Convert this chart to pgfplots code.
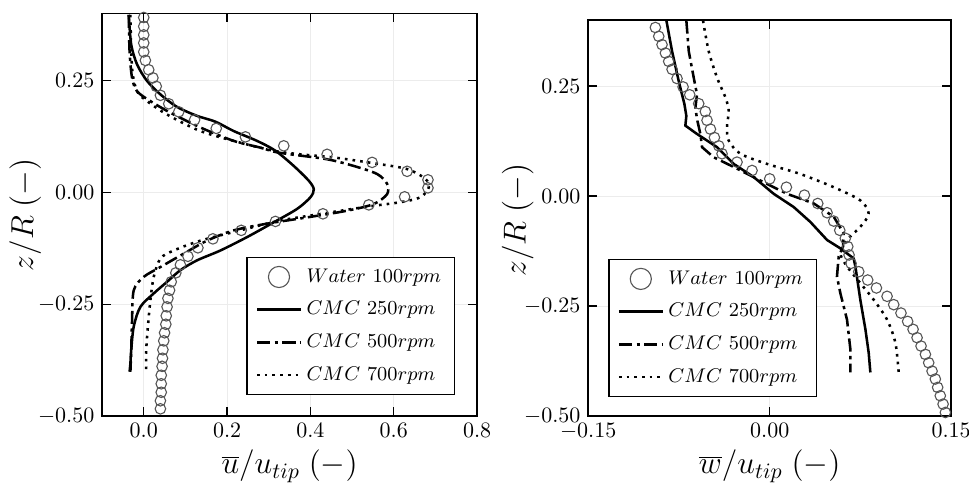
\documentclass[border=0pt]{standalone}
\usepackage{pgfplots}
\pgfplotsset{compat=1.18}

\definecolor{mk}{RGB}{85,85,85}

\pgfplotsset{
  prof/.style={
    scale only axis,
    ymin=-0.5, ymax=0.4,
    ytick={-0.5,-0.25,0,0.25},
    yticklabel style={/pgf/number format/.cd,fixed,fixed zerofill,precision=2},
    tick align=inside,
    major tick length=4pt,
    grid=major,
    grid style={gray!15, line width=0.4pt},
    axis line style={line width=0.8pt},
    every tick/.style={black, line width=0.6pt},
    tick label style={font=\normalsize},
    label style={font=\Large},
    legend cell align=left,
    legend style={draw=black, line width=0.6pt, font=\small,
      row sep=3.2pt, inner xsep=4pt, inner ysep=3pt},
    legend image code/.code={\draw[##1] (0cm,0cm) -- (0.7cm,0cm);},
  },
  water/.style={only marks, mark=o, mark size=2.4pt,
    mark options={draw=mk, line width=0.5pt},
    legend image code/.code={\draw[draw=mk, line width=0.5pt] (0.35cm,0cm) circle (4.8pt);}},
  c250/.style={black, line width=1.15pt},
  c500/.style={black, line width=1.15pt, dash pattern=on 6pt off 2pt on 1.5pt off 2pt},
  c700/.style={black, line width=1.15pt, dash pattern=on 1.2pt off 2.3pt},
}

\begin{document}
\begin{tikzpicture}
% page frame taken from the reference proportions
\path[use as bounding box] (-46.4pt,-33.2pt) rectangle (394.1pt,189.1pt);
% ---------------- left: axial velocity
\begin{axis}[prof,
    width=170.5pt, height=183pt,
    xmin=-0.1, xmax=0.8,
    xtick={0,0.2,0.4,0.6,0.8},
    xticklabel style={/pgf/number format/.cd,fixed,fixed zerofill,precision=1},
    xlabel={$\overline{u}/u_{tip}\;(-)$},
    ylabel={$z/R\;(-)$},
    xlabel style={at={(axis description cs:0.5,0)}, anchor=center, yshift=-23pt},
    ylabel style={at={(axis description cs:-0.205,0.5)}, anchor=center},
    legend style={at={(axis description cs:0.941,0.052)}, anchor=south east},
]
\addplot[water] coordinates {
(0,0.391) (0,0.371) (0,0.352) (0,0.334) (0,0.314) (0.004,0.295) (0.012,0.274)
(0.022,0.256) (0.030,0.237) (0.040,0.217) (0.060,0.198) (0.084,0.180) (0.122,0.162)
(0.174,0.143) (0.244,0.124) (0.336,0.104) (0.440,0.085) (0.548,0.067) (0.632,0.047)
(0.682,0.028) (0.682,0.010) (0.626,-0.010) (0.540,-0.028) (0.430,-0.048) (0.316,-0.065)
(0.234,-0.085) (0.166,-0.104) (0.130,-0.124) (0.106,-0.143) (0.088,-0.162) (0.077,-0.180)
(0.066,-0.200) (0.062,-0.219) (0.058,-0.237) (0.056,-0.256) (0.054,-0.276) (0.053,-0.295)
(0.050,-0.314) (0.048,-0.332) (0.046,-0.352) (0.045,-0.371) (0.044,-0.389) (0.042,-0.409)
(0.042,-0.428) (0.042,-0.447) (0.040,-0.466) (0.040,-0.484)
};
\addlegendentry{$Water\ 100rpm$}
\addplot[c250, smooth] coordinates {
(-0.036,0.397) (-0.030,0.330) (-0.016,0.286) (0.008,0.249) (0.040,0.219) (0.080,0.191)
(0.128,0.171) (0.172,0.158) (0.216,0.137) (0.272,0.115) (0.316,0.093) (0.360,0.059)
(0.396,0.026) (0.408,0.007) (0.400,-0.011) (0.368,-0.037) (0.312,-0.067) (0.248,-0.100)
(0.184,-0.130) (0.128,-0.152) (0.088,-0.174) (0.056,-0.200) (0.024,-0.226) (-0.008,-0.256)
(-0.024,-0.300) (-0.030,-0.352) (-0.032,-0.382) (-0.034,-0.401)
};
\addlegendentry{$CMC\ 250rpm$}
\addplot[c500, smooth] coordinates {
(-0.036,0.397) (-0.034,0.315) (-0.028,0.256) (-0.016,0.226) (0.016,0.204) (0.064,0.178)
(0.136,0.145) (0.216,0.115) (0.280,0.100) (0.312,0.091) (0.352,0.085) (0.440,0.074)
(0.504,0.059) (0.560,0.041) (0.584,0.019) (0.584,-0.004) (0.552,-0.026) (0.488,-0.041)
(0.392,-0.056) (0.296,-0.070) (0.216,-0.085) (0.152,-0.108) (0.096,-0.137) (0.040,-0.167)
(0.000,-0.189) (-0.024,-0.219) (-0.028,-0.286) (-0.030,-0.352) (-0.032,-0.401)
};
\addlegendentry{$CMC\ 500rpm$}
\addplot[c700, smooth] coordinates {
(-0.032,0.397) (-0.028,0.278) (-0.016,0.226) (0.008,0.204) (0.056,0.174) (0.136,0.137)
(0.232,0.111) (0.312,0.093) (0.376,0.085) (0.456,0.078) (0.552,0.065) (0.632,0.052)
(0.676,0.030) (0.684,0.011) (0.664,-0.011) (0.616,-0.022) (0.536,-0.032) (0.440,-0.046)
(0.328,-0.063) (0.232,-0.085) (0.136,-0.108) (0.072,-0.130) (0.040,-0.148) (0.024,-0.189)
(0.016,-0.241) (0.010,-0.300) (0.006,-0.352) (0.006,-0.401)
};
\addlegendentry{$CMC\ 700rpm$}
\end{axis}

% ---------------- right: radial velocity
\begin{axis}[prof,
    at={(221pt,0pt)}, anchor=south west,
    width=165pt, height=180pt,
    xmin=-0.15, xmax=0.15,
    xtick={-0.15,0,0.15},
    xticklabel style={/pgf/number format/.cd,fixed,fixed zerofill,precision=2},
    xlabel={$\overline{w}/u_{tip}\;(-)$},
    ylabel={$z/R\;(-)$},
    xlabel style={at={(axis description cs:0.5,0)}, anchor=center, yshift=-23pt},
    ylabel style={at={(axis description cs:-0.194,0.495)}, anchor=center},
    legend style={at={(axis description cs:0.055,0.048)}, anchor=south west},
]
\addplot[water] coordinates {
(-0.0945,0.383) (-0.0917,0.363) (-0.0890,0.344) (-0.0862,0.325) (-0.0835,0.306)
(-0.0807,0.288) (-0.0766,0.267) (-0.0716,0.248) (-0.0661,0.230) (-0.0587,0.210)
(-0.0532,0.192) (-0.0518,0.172) (-0.0490,0.152) (-0.0457,0.133) (-0.0421,0.114)
(-0.0394,0.096) (-0.0270,0.077) (-0.0146,0.058) (0.0000,0.039) (0.0138,0.020)
(0.0287,0.002) (0.0397,-0.017) (0.0474,-0.038) (0.0529,-0.057) (0.0579,-0.078)
(0.0625,-0.096) (0.0645,-0.115) (0.0656,-0.134) (0.0672,-0.153) (0.0736,-0.172)
(0.0810,-0.191) (0.0882,-0.209) (0.0970,-0.228) (0.1025,-0.247) (0.1085,-0.266)
(0.1140,-0.285) (0.1185,-0.303) (0.1218,-0.322) (0.1251,-0.341) (0.1287,-0.360)
(0.1314,-0.379) (0.1342,-0.398) (0.1369,-0.416) (0.1388,-0.435) (0.1410,-0.454)
(0.1433,-0.473) (0.1452,-0.492)
};
\addlegendentry{$Water\ 100rpm$}
\addplot[c250] coordinates {
(-0.0854,0.399) (-0.0807,0.329) (-0.0752,0.261) (-0.0705,0.209) (-0.0689,0.182)
(-0.0697,0.160) (-0.0601,0.141) (-0.0435,0.111) (-0.0298,0.073) (-0.0132,0.043)
(0.0033,0.005) (0.0198,-0.025) (0.0336,-0.059) (0.0474,-0.100) (0.0584,-0.119)
(0.0694,-0.142) (0.0708,-0.160) (0.0749,-0.236) (0.0791,-0.303) (0.0818,-0.356)
(0.0832,-0.401)
};
\addlegendentry{$CMC\ 250rpm$}
\addplot[c500] coordinates {
(-0.0689,0.399) (-0.0669,0.329) (-0.0628,0.269) (-0.0601,0.231) (-0.0614,0.201)
(-0.0601,0.175) (-0.0573,0.141) (-0.0559,0.111) (-0.0463,0.088) (-0.0298,0.066)
(-0.0077,0.035) (0.0143,0.005) (0.0364,-0.017) (0.0529,-0.047) (0.0612,-0.085)
(0.0606,-0.115) (0.0570,-0.138) (0.0556,-0.183) (0.0584,-0.221) (0.0639,-0.281)
(0.0667,-0.349) (0.0667,-0.401)
};
\addlegendentry{$CMC\ 500rpm$}
\addplot[c700, smooth] coordinates {
(-0.0551,0.399) (-0.0504,0.329) (-0.0435,0.269) (-0.0366,0.224) (-0.0339,0.194)
(-0.0353,0.156) (-0.0339,0.126) (-0.0242,0.096) (-0.0022,0.073) (0.0253,0.050)
(0.0529,0.020) (0.0749,-0.010) (0.0818,-0.040) (0.0749,-0.070) (0.0639,-0.100)
(0.0584,-0.130) (0.0639,-0.160) (0.0749,-0.198) (0.0860,-0.236) (0.0970,-0.281)
(0.1039,-0.334) (0.1066,-0.401)
};
\addlegendentry{$CMC\ 700rpm$}
\end{axis}
\end{tikzpicture}
\end{document}
